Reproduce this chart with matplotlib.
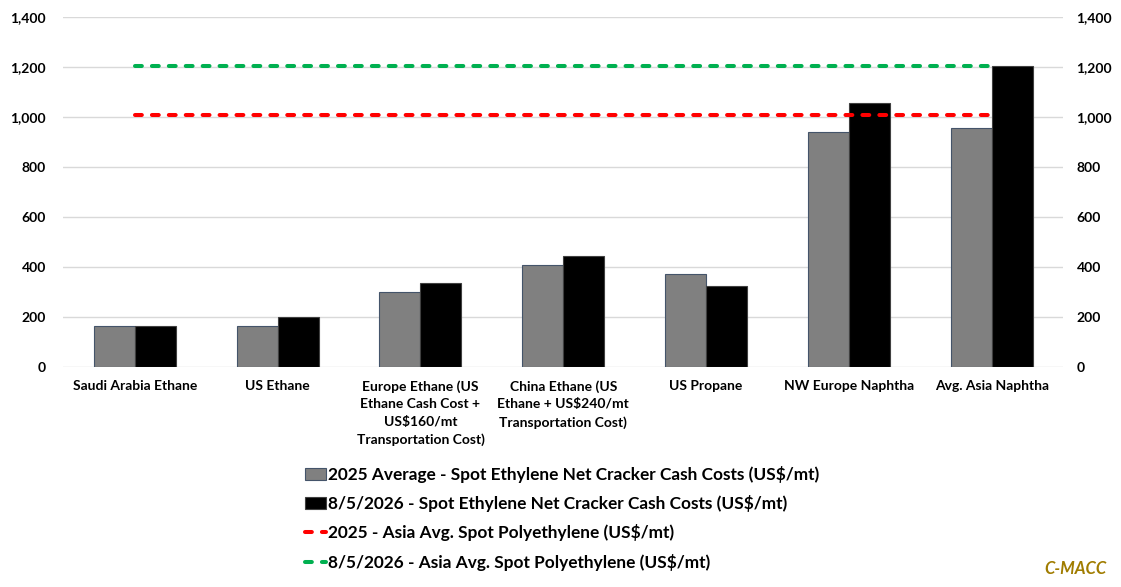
import matplotlib
matplotlib.use("Agg")
import matplotlib.pyplot as plt
import numpy as np

plt.rcParams['text.parse_math'] = False
plt.rcParams['font.family'] = ['Lato', 'DejaVu Sans']
plt.rcParams['font.weight'] = 'bold'

categories = [
    "Saudi Arabia Ethane",
    "US Ethane",
    "Europe Ethane (US\nEthane Cash Cost +\nUS$160/mt\nTransportation Cost)",
    "China Ethane (US\nEthane + US$240/mt\nTransportation Cost)",
    "US Propane",
    "NW Europe Naphtha",
    "Avg. Asia Naphtha",
]
avg_2025 = [166, 163, 302, 407, 373, 939, 955]
spot_2026 = [166, 200, 338, 445, 324, 1055, 1204]
pe_2025 = [1007] * 7
pe_2026 = [1206] * 7

labels = [
    "2025 Average - Spot Ethylene Net Cracker Cash Costs (US$/mt)",
    "8/5/2026 - Spot Ethylene Net Cracker Cash Costs (US$/mt)",
    "2025 - Asia Avg. Spot Polyethylene (US$/mt)",
    "8/5/2026 - Asia Avg. Spot Polyethylene (US$/mt)",
]
yticks = [0, 200, 400, 600, 800, 1000, 1200, 1400]

W, H = 1121, 587
fig = plt.figure(figsize=(W / 100, H / 100), dpi=100)
left, right, top, bottom = 63.3, 1063.3, 17, 367
ax = fig.add_axes([left / W, 1 - bottom / H, (right - left) / W, (bottom - top) / H])

x = np.arange(len(categories))
bw = 0.287
b1 = ax.bar(x - bw / 2, avg_2025, bw, color='#808080', edgecolor='#44546A', linewidth=0.8,
            label=labels[0], zorder=2)
b2 = ax.bar(x + bw / 2, spot_2026, bw, color='#000000', edgecolor='#404040', linewidth=0.8,
            label=labels[1], zorder=2)

lw = 2.9
ls = (0, (1.7, 2.5))
l1, = ax.plot(x, pe_2025, color='#FF0000', lw=lw, linestyle=ls, dash_capstyle='round',
              label=labels[2], zorder=3)
l2, = ax.plot(x, pe_2026, color='#00B050', lw=lw, linestyle=ls, dash_capstyle='round',
              label=labels[3], zorder=3)

ax.set_xlim(-0.5, len(categories) - 0.5)
ax.set_ylim(0, 1400)
ax.set_yticks(yticks)
ax.set_yticklabels([f"{v:,}" for v in yticks])
ax.yaxis.grid(True, color='#D9D9D9', linewidth=1, zorder=0)
ax.set_axisbelow(True)
for s in ax.spines.values():
    s.set_visible(False)
ax.tick_params(axis='y', length=0, pad=12.5, labelsize=10, labelcolor='#000000')
ax.set_xticks(x)
ax.set_xticklabels(categories, fontsize=10, linespacing=1.55, va='top')
ax.tick_params(axis='x', length=0, pad=9.5)

ax2 = ax.twinx()
ax2.set_ylim(0, 1400)
ax2.set_yticks(yticks)
ax2.set_yticklabels([f"{v:,}" for v in yticks])
for s in ax2.spines.values():
    s.set_visible(False)
ax2.tick_params(axis='y', length=0, pad=9.5, labelsize=10)

leg = fig.legend(handles=[b1, b2, l1, l2], labels=labels, loc='upper left',
                 bbox_to_anchor=(305 / W, 1 - 466 / H), frameon=False, fontsize=12.4,
                 handlelength=1.2, handletextpad=0.15, labelspacing=0.71,
                 borderpad=0, borderaxespad=0)

fig.text(1075 / W, 1 - 569 / H, "C-MACC", color='#A07C00', fontsize=12, fontstyle='italic',
         fontweight='bold', ha='center', va='center')

fig.savefig("out.png", dpi=100)
